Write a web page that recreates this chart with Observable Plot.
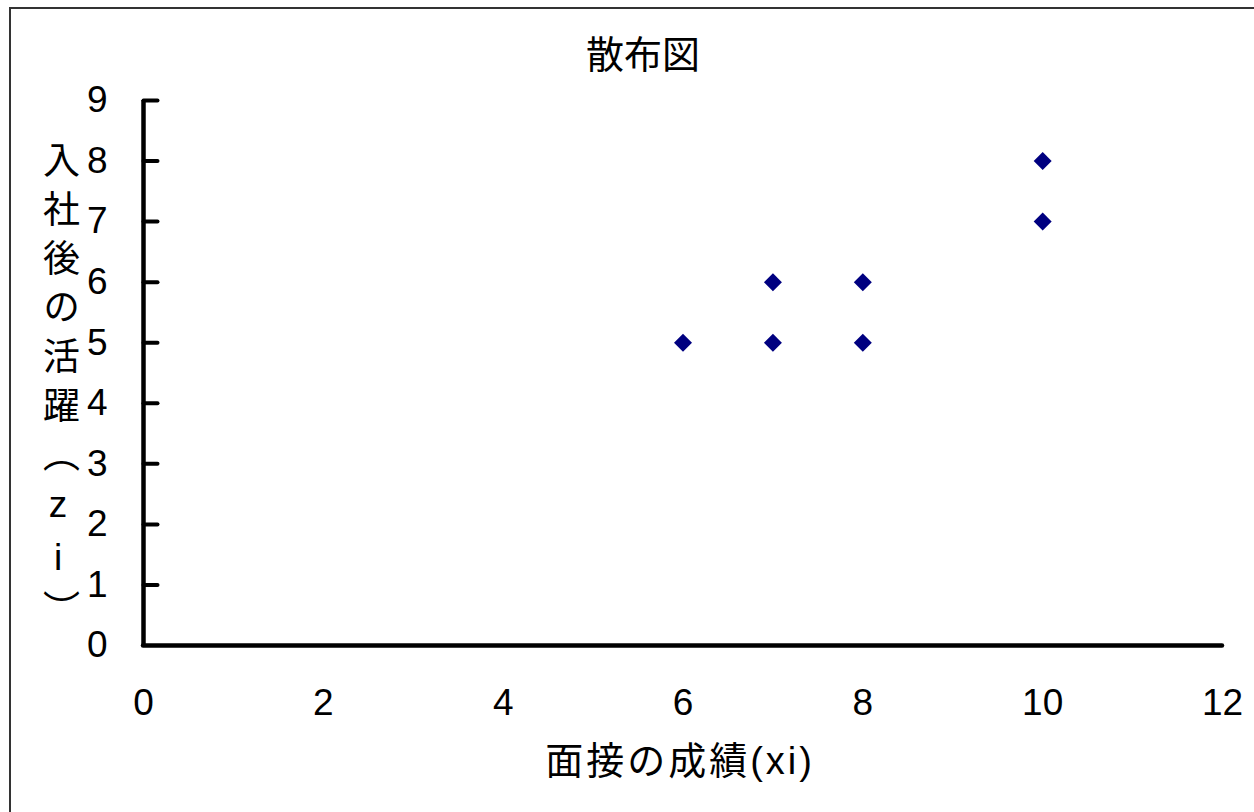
<!DOCTYPE html>
<html>
<head>
<meta charset="utf-8">
<script src="https://cdn.jsdelivr.net/npm/d3@7"></script>
<script src="https://cdn.jsdelivr.net/npm/@observablehq/plot@0.6"></script>
<style>
  html, body { margin: 0; padding: 0; background: #fff; }
  #wrap { position: relative; width: 1254px; height: 812px; overflow: hidden; }
  #frame { position: absolute; left: 9px; top: 7px; width: 1300px; height: 900px; border-left: 2px solid #333; border-top: 2px solid #333; box-sizing: border-box; pointer-events: none; }
</style>
</head>
<body>
<div id="wrap"><div id="frame"></div></div>
<script>
const titleText = "散布図";
const xLabelText = "面接の成績(xi)";
const yLabelText = "入社後の活躍（zi）";
const xValues = [6, 7, 7, 8, 8, 10, 10];
const yValues = [5, 6, 5, 6, 5, 8, 7];
const xTicks = [0, 2, 4, 6, 8, 10, 12];
const yTicks = [0, 1, 2, 3, 4, 5, 6, 7, 8, 9];

const points = xValues.map((x, i) => ({x, y: yValues[i]}));
const font = "'Liberation Sans', Arial, 'Noto Sans CJK JP', sans-serif";

const tickShape = {
  draw(context, l) { context.moveTo(0, 0); context.lineTo(0, -l); }
};

const chart = Plot.plot({
  width: 1254,
  height: 812,
  marginLeft: 143,
  marginRight: 32,
  marginTop: 100,
  marginBottom: 167,
  x: {domain: [0, 12]},
  y: {domain: [0, 9]},
  style: {fontFamily: font, fontSize: "37px", color: "#000", background: "transparent", overflow: "visible"},
  marks: [
    Plot.axisX(xTicks, {tickSize: 0, tickPadding: 43, fontSize: 37, label: null, tickFormat: d => String(d)}),
    Plot.axisY(yTicks, {tickSize: 0, tickPadding: 36, fontSize: 37, label: null, tickFormat: d => String(d)}),
    Plot.vector(yTicks.slice(1), {x: 0, y: d => d, rotate: 90, length: 14, anchor: "start", shape: tickShape, stroke: "#000", strokeWidth: 4}),
    Plot.ruleY([0], {stroke: "#000", strokeWidth: 4.5, strokeLinecap: "round"}),
    Plot.ruleX([0], {stroke: "#000", strokeWidth: 4.5}),
    Plot.dot(points, {x: "x", y: "y", symbol: "diamond2", r: 8.1, fill: "#000080", stroke: null}),
    Plot.text([titleText], {frameAnchor: "top", dx: -40, dy: -45, lineAnchor: "middle", fontSize: 38, fill: "#000"}),
    Plot.text([xLabelText], {frameAnchor: "bottom", dx: -3, dy: 116, lineAnchor: "middle", fontSize: 38, fill: "#000", className: "xlabel"})
  ]
});

const svg = d3.select(chart);
svg.selectAll(".xlabel text").style("letter-spacing", "3px");
svg.append("text")
  .attr("x", 58)
  .attr("y", 141)
  .attr("fill", "#000")
  .attr("text-anchor", "start")
  .style("font-family", font)
  .style("font-size", "37px")
  .style("writing-mode", "vertical-rl")
  .style("text-orientation", "upright")
  .style("letter-spacing", "12px")
  .text(yLabelText);

document.getElementById("wrap").insertBefore(chart, document.getElementById("frame"));
</script>
</body>
</html>
